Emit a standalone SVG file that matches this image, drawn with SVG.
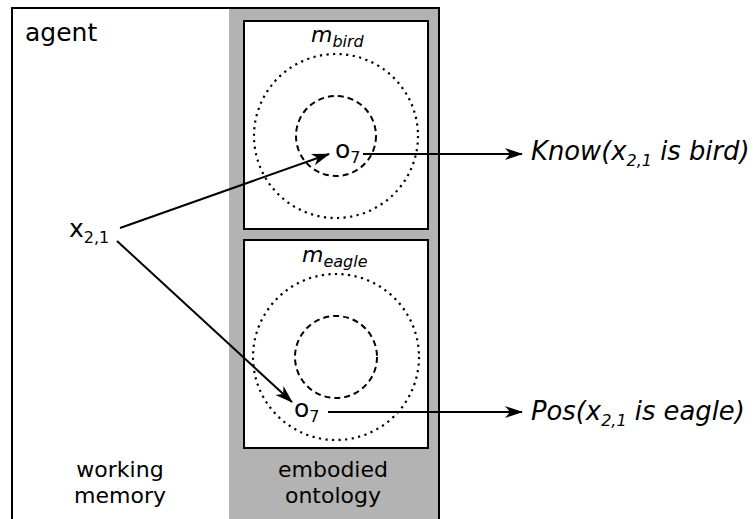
<svg xmlns="http://www.w3.org/2000/svg" width="755" height="519" viewBox="0 0 755 519">
  <style>
    text { font-family: "DejaVu Sans", "Liberation Sans", sans-serif; fill: #000; }
    .lbl { font-size: 25px; }
    .res { font-size: 25.8px; font-style: italic; }
    .cap { font-size: 22px; text-anchor: middle; }
    .it { font-style: italic; }
    .sub { font-size: 16px; }
    .box { fill: #fff; stroke: #000; stroke-width: 2; }
    .outer { fill: none; stroke: #000; stroke-width: 2.2; stroke-dasharray: 2.2 4.4; }
    .inner { fill: none; stroke: #000; stroke-width: 2; stroke-dasharray: 6 4; }
    .edge { fill: none; stroke: #000; stroke-width: 2; marker-end: url(#head); }
  </style>
  <defs>
    <marker id="head" markerUnits="userSpaceOnUse" markerWidth="20" markerHeight="14" viewBox="-18 -7 20 14" refX="0" refY="0" orient="auto">
      <path d="M1,0 L-17,-6 L-12,0 L-17,6 z" fill="#000"/>
    </marker>
  </defs>

  <!-- agent frame -->
  <g id="agent">
    <rect x="12" y="8" width="427" height="520" fill="#fff" stroke="#000" stroke-width="2"/>
    <rect x="229" y="9" width="209" height="518" fill="#b3b3b3"/>
    <line x1="439" y1="8" x2="439" y2="519" stroke="#000" stroke-width="2"/>
    <text class="lbl" x="25" y="41">agent</text>
    <text class="cap" x="120" y="477">working</text>
    <text class="cap" x="120" y="503">memory</text>
    <text class="cap" x="333" y="477">embodied</text>
    <text class="cap" x="333" y="503">ontology</text>
  </g>

  <!-- concept m_bird -->
  <g id="m-bird">
    <rect class="box" x="244" y="21" width="184" height="208"/>
    <circle class="outer" cx="336" cy="136" r="82"/>
    <circle class="inner" cx="336" cy="136" r="40"/>
    <text class="it" x="311" y="42"><tspan style="font-size:22px">m</tspan><tspan class="sub" dy="5">bird</tspan></text>
    <text class="lbl" x="335" y="158">o<tspan class="sub" dy="5">7</tspan></text>
  </g>

  <!-- concept m_eagle -->
  <g id="m-eagle">
    <rect class="box" x="244" y="240" width="184" height="208"/>
    <circle class="outer" cx="336" cy="357" r="83"/>
    <circle class="inner" cx="336" cy="357" r="41"/>
    <text class="it" x="302" y="262"><tspan style="font-size:22px">m</tspan><tspan class="sub" dy="5">eagle</tspan></text>
    <text class="lbl" x="294" y="417">o<tspan class="sub" dy="5">7</tspan></text>
  </g>

  <!-- working memory item -->
  <g id="x21">
    <text class="lbl" x="69" y="237">x<tspan class="sub" dy="6">2,1</tspan></text>
  </g>

  <!-- outcomes -->
  <g id="know">
    <text class="res" x="531" y="160">Know(x<tspan class="sub" dy="6">2,1</tspan><tspan dy="-6"> is bird)</tspan></text>
  </g>
  <g id="pos">
    <text class="res" x="531" y="420">Pos(x<tspan class="sub" dy="6">2,1</tspan><tspan dy="-6"> is eagle)</tspan></text>
  </g>

  <!-- connectors -->
  <g id="connectors">
    <line class="edge" x1="120" y1="228" x2="329" y2="154"/>
    <line class="edge" x1="117" y1="241" x2="292" y2="402"/>
    <line class="edge" x1="363" y1="154" x2="522" y2="154"/>
    <line class="edge" x1="328" y1="412" x2="522" y2="412"/>
  </g>
</svg>
